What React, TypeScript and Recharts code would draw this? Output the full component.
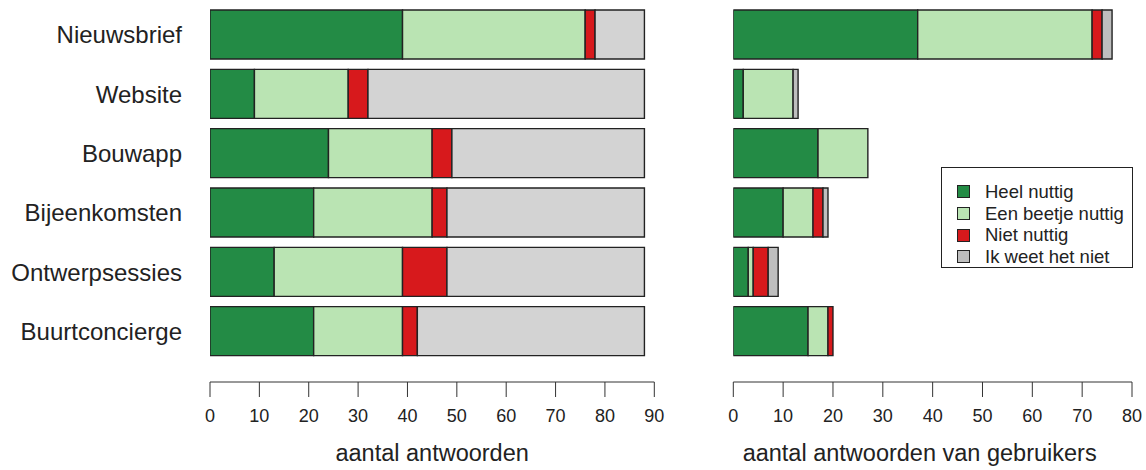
import React from 'react';
import { BarChart, Bar, XAxis, YAxis } from 'recharts';

const FONT = '"Liberation Sans", Arial, Helvetica, sans-serif';

const categories = ['Nieuwsbrief', 'Website', 'Bouwapp', 'Bijeenkomsten', 'Ontwerpsessies', 'Buurtconcierge'];
const seriesNames = ['Heel nuttig', 'Een beetje nuttig', 'Niet nuttig', 'Ik weet het niet'];

// left panel: all answers
const allHeel = [39, 9, 24, 21, 13, 21];
const allBeetje = [37, 19, 21, 24, 26, 18];
const allNiet = [2, 4, 4, 3, 9, 3];
const allWeetNiet = [10, 56, 39, 40, 40, 46];

// right panel: answers of users
const userHeel = [37, 2, 17, 10, 3, 15];
const userBeetje = [35, 10, 10, 6, 1, 4];
const userNiet = [2, 0, 0, 2, 3, 1];
const userWeetNiet = [2, 1, 0, 1, 2, 0];

const leftTicks = [0, 10, 20, 30, 40, 50, 60, 70, 80, 90];
const rightTicks = [0, 10, 20, 30, 40, 50, 60, 70, 80];

const leftColors = ['#238b45', '#bae4b3', '#d7191c', '#d3d3d3'];
const rightColors = ['#238b45', '#bae4b3', '#d7191c', '#bebebe'];

const keys = ['heel', 'beetje', 'niet', 'weetniet'];

const build = (a: number[], b: number[], c: number[], d: number[]) =>
  categories.map((name, i) => ({ name, heel: a[i], beetje: b[i], niet: c[i], weetniet: d[i] }));

const leftData = build(allHeel, allBeetje, allNiet, allWeetNiet);
const rightData = build(userHeel, userBeetje, userNiet, userWeetNiet);

const makeTitle = (title: string, shift: number) => (props: any) => {
  const vb = props.viewBox || {};
  return (
    <text
      x={vb.x + vb.width / 2 + shift}
      y={vb.y + vb.height - 9}
      textAnchor="middle"
      fontSize={23.5}
      fontFamily={FONT}
      fill="#222"
    >
      {title}
    </text>
  );
};

interface PanelProps {
  data: any[];
  colors: string[];
  domain: [number, number];
  ticks: number[];
  title: string;
  titleShift: number;
  showCategories: boolean;
  width: number;
  margin: { top: number; right: number; bottom: number; left: number };
}

function Panel(p: PanelProps) {
  return (
    <BarChart
      layout="vertical"
      width={p.width}
      height={470}
      data={p.data}
      margin={p.margin}
      barCategoryGap={5}
      style={{ fontFamily: FONT }}
    >
      <XAxis
        type="number"
        domain={p.domain}
        ticks={p.ticks}
        interval={0}
        allowDataOverflow
        height={88}
        tickSize={15}
        tickMargin={12}
        stroke="#333"
        tick={{ fontSize: 18, fill: '#222', fontFamily: FONT }}
        label={{ content: makeTitle(p.title, p.titleShift) } as any}
      />
      <YAxis
        type="category"
        dataKey="name"
        hide={!p.showCategories}
        width={210}
        interval={0}
        tickSize={0}
        tickMargin={28}
        axisLine={false}
        tickLine={false}
        padding={{ top: 0, bottom: 21 }}
        tick={{ fontSize: 24, fill: '#222', fontFamily: FONT }}
      />
      {keys.map((k, i) => (
        <Bar
          key={k}
          dataKey={k}
          name={seriesNames[i]}
          stackId="s"
          fill={p.colors[i]}
          stroke="#222"
          strokeWidth={1.4}
          isAnimationActive={false}
        />
      ))}
    </BarChart>
  );
}

function LegendBox() {
  return (
    <div
      style={{
        position: 'absolute',
        left: 941,
        top: 167,
        width: 192,
        height: 101,
        border: '1px solid #222',
        boxSizing: 'border-box',
        paddingTop: 13,
        fontFamily: FONT,
        fontSize: 18.5,
        color: '#222',
      }}
    >
      {seriesNames.map((n, i) => (
        <div key={n} style={{ display: 'flex', alignItems: 'center', height: 21.7 }}>
          <div
            style={{
              marginLeft: 15,
              width: 13,
              height: 13,
              flexShrink: 0,
              boxSizing: 'border-box',
              border: '1.4px solid #222',
              background: rightColors[i],
            }}
          />
          <span style={{ marginLeft: 15, whiteSpace: 'nowrap', lineHeight: '21.7px' }}>{n}</span>
        </div>
      ))}
    </div>
  );
}

export default function App() {
  return (
    <div style={{ position: 'absolute', left: 0, top: 0, width: 1146, height: 470, background: '#fff', overflow: 'hidden' }}>
      <div style={{ position: 'absolute', left: 0, top: 0 }}>
        <Panel
          data={leftData}
          colors={leftColors}
          domain={[0, 90]}
          ticks={leftTicks}
          title="aantal antwoorden"
          titleShift={0}
          showCategories={true}
          width={680}
          margin={{ top: 5, right: 25.7, bottom: 0, left: 0 }}
        />
      </div>
      <div style={{ position: 'absolute', left: 680, top: 0 }}>
        <Panel
          data={rightData}
          colors={rightColors}
          domain={[0, 80]}
          ticks={rightTicks}
          title="aantal antwoorden van gebruikers"
          titleShift={-13}
          showCategories={false}
          width={466}
          margin={{ top: 5, right: 14, bottom: 0, left: 53.3 }}
        />
      </div>
      <LegendBox />
    </div>
  );
}
